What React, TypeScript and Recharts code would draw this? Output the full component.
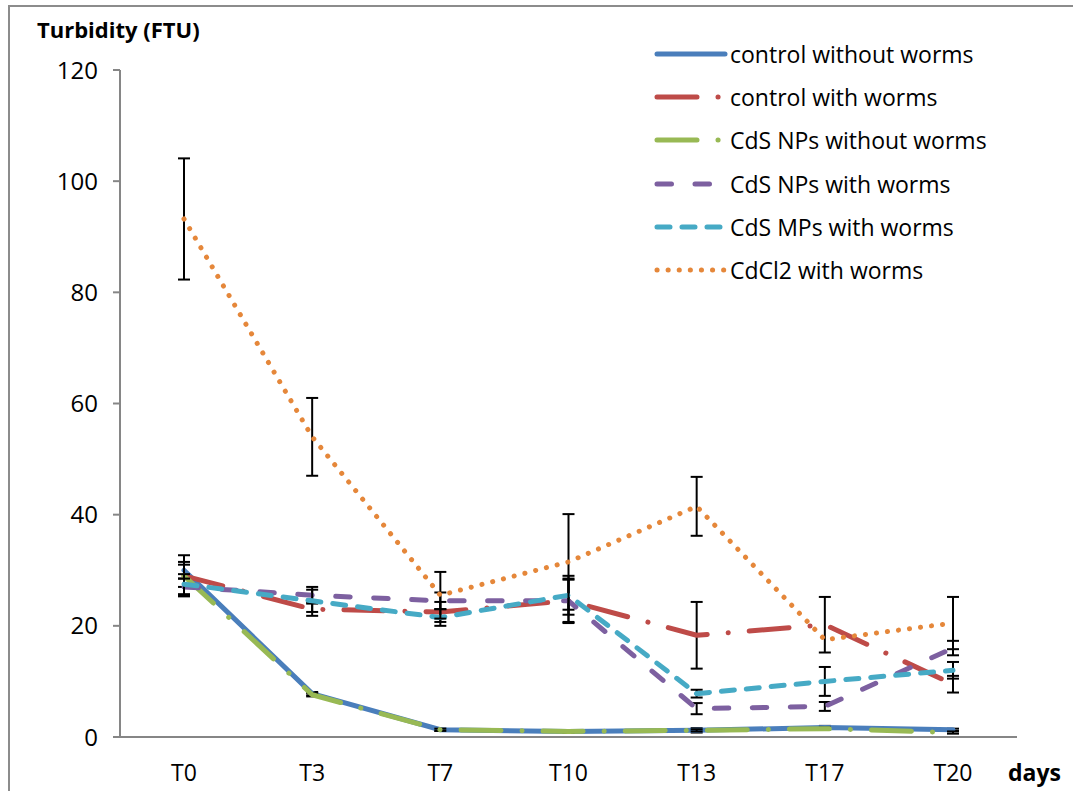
import React from 'react'
import { ErrorBar, Line, LineChart, XAxis, YAxis } from 'recharts'

const days = ['T0', 'T3', 'T7', 'T10', 'T13', 'T17', 'T20']

const controlWithout = [30, 7.8, 1.3, 1.0, 1.2, 1.7, 1.3]
const controlWithoutErr = [1.5, 0.3, 0.2, 0.2, 0.4, 0.3, 0.2]
const controlWith = [29, 23, 22.5, 24.5, 18.3, 20.2, 9.5]
const controlWithErr = [3.7, 1.2, 1.8, 3.8, 6, 5, 1.5]
const npsWithout = [29, 7.6, 1.3, 1.0, 1.2, 1.5, 0.8]
const npsWithoutErr = [2, 0.3, 0.2, 0.2, 0.2, 0.2, 0.2]
const npsWith = [27, 25.5, 24.5, 24.5, 5.1, 5.5, 16]
const npsWithErr = [1.5, 1.5, 1.5, 4, 1, 0.8, 1.3]
const mpsWith = [27.5, 24.5, 21.5, 25.5, 7.8, 10, 12]
const mpsWithErr = [1.8, 2, 1.5, 3.5, 0.7, 2.6, 1.5]
const cdcl2 = [93.2, 54, 25.5, 31.5, 41.5, 17.5, 20.5]
const cdcl2Err = [10.9, 7, 4.2, 8.6, 5.3, 0, 4.7]

const yTicks = [0, 20, 40, 60, 80, 100, 120]
const boundaryTicks = [0, 1, 2, 3, 4, 5, 6, 7]

const series = [
  { key: 'cw', name: 'control without worms', color: '#4a7ebb', dash: undefined, values: controlWithout, errs: controlWithoutErr },
  { key: 'cww', name: 'control with worms', color: '#be4b48', dash: '40 21 0.1 21', values: controlWith, errs: controlWithErr },
  { key: 'nw', name: 'CdS NPs without worms', color: '#98b954', dash: '40 21 0.1 21', values: npsWithout, errs: npsWithoutErr },
  { key: 'nww', name: 'CdS NPs with worms', color: '#7d60a0', dash: '14.5 23.5', values: npsWith, errs: npsWithErr },
  { key: 'mww', name: 'CdS MPs with worms', color: '#46aac5', dash: '13 12', values: mpsWith, errs: mpsWithErr },
  { key: 'cd', name: 'CdCl2 with worms', color: '#e5873a', dash: '0.1 11', values: cdcl2, errs: cdcl2Err },
]

const data = days.map((d, i) => {
  const row: Record<string, string | number> = { day: d }
  series.forEach((s) => {
    row[s.key] = s.values[i]
    row[s.key + 'Err'] = s.errs[i]
  })
  return row
})

const font = '"Open Sans", sans-serif'
const axisColor = '#868686'

export default function App() {
  return (
    <div
      style={{
        position: 'fixed',
        left: 0,
        top: 0,
        width: 1073,
        height: 791,
        overflow: 'hidden',
        background: '#fff',
        fontFamily: font,
      }}
    >
      {/* chart frame, runs off the right and bottom */}
      <div
        style={{
          position: 'absolute',
          left: 8,
          top: 5,
          width: 1200,
          height: 1000,
          border: '2px solid #8c8c8c',
        }}
      />
      <div style={{ position: 'absolute', left: 0, top: 0 }}>
        <LineChart
          width={1073}
          height={791}
          data={data}
          margin={{ top: 70, right: 56, left: 0, bottom: 13 }}
        >
          {/* numeric axis only for the tick marks between categories */}
          <XAxis
            xAxisId='a_frame'
            type='number'
            domain={[0, 7]}
            ticks={boundaryTicks}
            tick={false}
            tickSize={8}
            height={1}
            axisLine={{ stroke: axisColor, strokeWidth: 2 }}
            tickLine={{ stroke: axisColor, strokeWidth: 2 }}
          />
          <XAxis
            xAxisId='b_cat'
            dataKey='day'
            padding={{ left: 64, right: 64 }}
            axisLine={false}
            tickLine={false}
            tickSize={8}
            tickMargin={19}
            height={40}
            tick={{ fill: '#000', fontSize: 23, fontFamily: font }}
          />
          <YAxis
            domain={[0, 120]}
            ticks={yTicks}
            width={120}
            tickSize={7}
            tickMargin={15}
            axisLine={{ stroke: axisColor, strokeWidth: 2 }}
            tickLine={{ stroke: axisColor, strokeWidth: 2 }}
            tick={{ fill: '#000', fontSize: 24, fontFamily: font }}
          />
          {series.map((s) => (
            <Line
              key={s.key}
              xAxisId='b_cat'
              dataKey={s.key}
              name={s.name}
              stroke={s.color}
              strokeWidth={5}
              strokeDasharray={s.dash}
              strokeLinecap='round'
              strokeLinejoin='round'
              dot={false}
              activeDot={false}
              type='linear'
              isAnimationActive={false}
            >
              <ErrorBar
                dataKey={s.key + 'Err'}
                direction='y'
                width={6}
                stroke='#000'
                strokeWidth={2}
                isAnimationActive={false}
              />
            </Line>
          ))}
        </LineChart>
      </div>

      <div
        style={{
          position: 'absolute',
          left: 37,
          top: 15,
          fontSize: 22,
          fontWeight: 700,
          lineHeight: '28px',
          color: '#000',
        }}
      >
        Turbidity (FTU)
      </div>
      <div
        style={{
          position: 'absolute',
          left: 1008,
          top: 757,
          fontSize: 23,
          fontWeight: 700,
          lineHeight: '30px',
          color: '#000',
        }}
      >
        days
      </div>

      {/* legend */}
      <div style={{ position: 'absolute', left: 653, top: 32 }}>
        {series.map((s) => (
          <div
            key={s.key}
            style={{ display: 'flex', alignItems: 'center', height: 43.3 }}
          >
            <svg width={76} height={12} style={{ marginRight: 1 }}>
              <line
                x1={4}
                y1={6}
                x2={72}
                y2={6}
                stroke={s.color}
                strokeWidth={5}
                strokeDasharray={s.dash}
                strokeLinecap='round'
              />
            </svg>
            <span style={{ fontSize: 23, color: '#000', whiteSpace: 'nowrap' }}>
              {s.name}
            </span>
          </div>
        ))}
      </div>
    </div>
  )
}
